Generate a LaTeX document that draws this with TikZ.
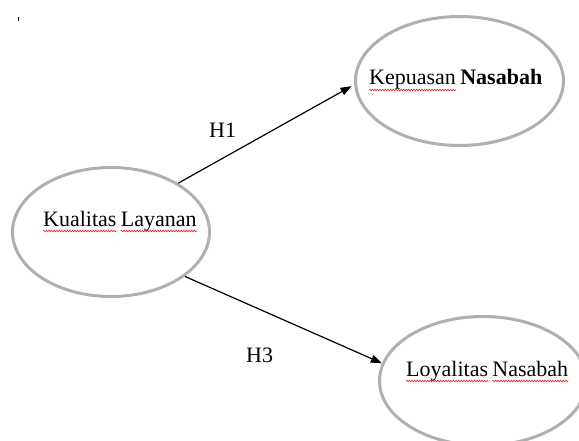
\documentclass[tikz,border=0pt]{standalone}
\usepackage{fontspec}
\setmainfont{Liberation Serif}
\usetikzlibrary{shapes.geometric,arrows.meta,decorations.pathmorphing}
\definecolor{ringgray}{HTML}{B0B0B0}
\definecolor{spellred}{HTML}{E02020}
\begin{document}
\begin{tikzpicture}[x=1pt,y=-1pt,
  oval/.style={ellipse,draw=ringgray,line width=3pt,inner sep=0pt},
  word/.style={inner sep=0pt,font=\fontsize{22}{26}\selectfont},
  conn/.style={line width=1.2pt,-{Triangle[length=11pt,width=8pt]}},
  wavy/.style={draw=spellred,line width=0.6pt,decorate,
    decoration={snake,amplitude=0.8pt,segment length=2.6pt}}]
\useasboundingbox (0,0) rectangle (579,441);
\clip (0,0) rectangle (579,441);
\fill[white] (0,0) rectangle (579,441);
% ovals
\node[oval,minimum width=197pt,minimum height=129pt] (kl) at (111,232) {};
\node[oval,minimum width=208pt,minimum height=129pt] (kep) at (459.5,81) {};
\node[oval,minimum width=207pt,minimum height=129pt] (loy) at (483,381) {};
% texts
\node[word,anchor=base west] (w1) at (43,226) {Kualitas};
\node[word,anchor=base west] (w2) at ([xshift=4pt]w1.base east) {Layanan};
\node[word,anchor=base west] (w3) at (369,85) {Kepuasan};
\node[word,anchor=base west] (w4) at ([xshift=4pt]w3.base east) {\bfseries Nasabah};
\node[word,anchor=base west] (w5) at (406,376) {Loyalitas};
\node[word,anchor=base west] (w6) at ([xshift=4pt]w5.base east) {Nasabah};
\node[word,anchor=base west] (h1) at (209,138) {H1};
\node[word,anchor=base west] (h3) at (246,362) {H3};
% spell-check underlines
\foreach \w in {w1,w2,w3,w5,w6}
  \path[wavy] ([yshift=-5pt]\w.base west) -- ([yshift=-5pt]\w.base east);
% connectors
\draw[conn,shorten >=3pt] (kl.36) -- (kep.182);
\draw[conn] (kl.-31) -- (loy.170);
% small mark
\draw[line width=0.8pt] (18,17) -- (18,21);
\end{tikzpicture}
\end{document}
